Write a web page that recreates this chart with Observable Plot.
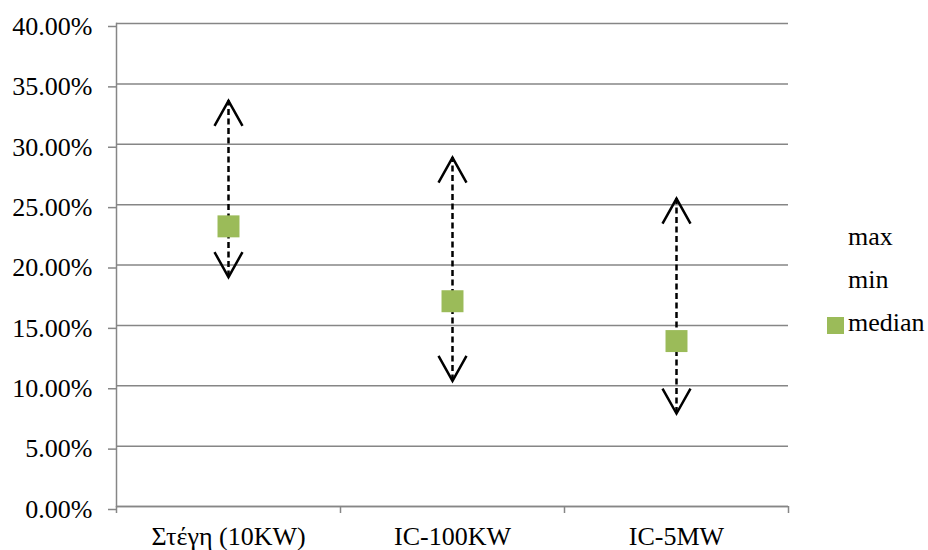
<!DOCTYPE html>
<html>
<head>
<meta charset="utf-8">
<script src="https://cdn.jsdelivr.net/npm/d3@7"></script>
<script src="https://cdn.jsdelivr.net/npm/@observablehq/plot@0.6"></script>
<style>
  body { margin: 0; background: #fff; }
  #chart { position: relative; width: 928px; height: 550px; font-family: "Liberation Serif", "Times New Roman", Times, serif; }
  #legend { position: absolute; left: 827px; top: 215px; font-size: 26px; color: #000; }
  #legend .item { display: flex; align-items: center; height: 43px; }
  #legend .swatch { width: 17px; height: 17px; margin-right: 4px; flex: none; position: relative; top: 3px; }
</style>
</head>
<body>
<div id="chart"></div>
<script>
// Ranges of the three installation types
const categories = ["Στέγη (10KW)", "IC-100KW", "IC-5MW"];
const maxValues = [0.336, 0.289, 0.255];
const minValues = [0.190, 0.104, 0.077];
const medianValues = [0.232, 0.170, 0.137];
const yTicks = [0, 0.05, 0.10, 0.15, 0.20, 0.25, 0.30, 0.35, 0.40];
const legendLabels = ["max", "min", "median"];
const medianColor = "#9BBB59";
const axisGray = "#868686";
const serif = "'Liberation Serif', 'Times New Roman', Times, serif";

const rows = categories.map((category, i) => ({
  category,
  max: maxValues[i],
  min: minValues[i],
  median: medianValues[i]
}));

const width = 928;
const height = 550;
const marginLeft = 116;
const marginRight = 140;
const bandWidth = (width - marginLeft - marginRight) / categories.length;

// open chevrons whose tip sits on the data point
const chevronUp = {
  draw(ctx) { ctx.moveTo(-14, 25); ctx.lineTo(0, 0); ctx.lineTo(14, 25); }
};
const chevronDown = {
  draw(ctx) { ctx.moveTo(-14, -25); ctx.lineTo(0, 0); ctx.lineTo(14, -25); }
};

const chart = Plot.plot({
  width,
  height,
  marginLeft,
  marginRight,
  marginTop: 23,
  marginBottom: 44,
  style: { fontFamily: serif, fontSize: "26px", color: "#000", background: "#fff" },
  x: { type: "band", domain: categories, padding: 0, label: null },
  y: { domain: [0, 0.4], label: null },
  marks: [
    Plot.gridY(yTicks, { stroke: axisGray, strokeOpacity: 1, strokeWidth: 1.5 }),
    Plot.frame({ anchor: "left", stroke: axisGray, strokeWidth: 1.5 }),
    Plot.ruleY([0], { stroke: axisGray, strokeWidth: 1.5 }),
    Plot.axisY(yTicks, { tickFormat: d3.format(".2%"), tickSize: 8, tickPadding: 16, dy: 3, stroke: axisGray, strokeWidth: 1.5, label: null }),
    Plot.axisX({ tickSize: 0, tickPadding: 20, label: null }),
    // category boundary ticks below the axis
    Plot.ruleX(categories, { x: d => d, y1: 0, y2: 0, dx: -bandWidth / 2, insetBottom: -7, stroke: axisGray, strokeWidth: 1.5 }),
    Plot.ruleX(categories.slice(-1), { x: d => d, y1: 0, y2: 0, dx: bandWidth / 2, insetBottom: -7, stroke: axisGray, strokeWidth: 1.5 }),
    // min–max range
    Plot.ruleX(rows, { x: "category", y1: "min", y2: "max", stroke: "#000", strokeWidth: 2.5, strokeDasharray: "6,3.5" }),
    Plot.dot(rows, { x: "category", y: "max", symbol: chevronUp, fill: "none", stroke: "#000", strokeWidth: 2.5 }),
    Plot.dot(rows, { x: "category", y: "min", symbol: chevronDown, fill: "none", stroke: "#000", strokeWidth: 2.5 }),
    // median marker
    Plot.dot(rows, { x: "category", y: "median", symbol: "square", r: 12.4, fill: medianColor, stroke: "none" })
  ]
});

const container = document.getElementById("chart");
container.appendChild(chart);

// legend on the right: max and min have no swatch
const legend = document.createElement("div");
legend.id = "legend";
legendLabels.forEach(label => {
  const item = document.createElement("div");
  item.className = "item";
  const swatch = document.createElement("span");
  swatch.className = "swatch";
  swatch.style.background = label === "median" ? medianColor : "transparent";
  item.appendChild(swatch);
  const text = document.createElement("span");
  text.textContent = label;
  item.appendChild(text);
  legend.appendChild(item);
});
container.appendChild(legend);
</script>
</body>
</html>
